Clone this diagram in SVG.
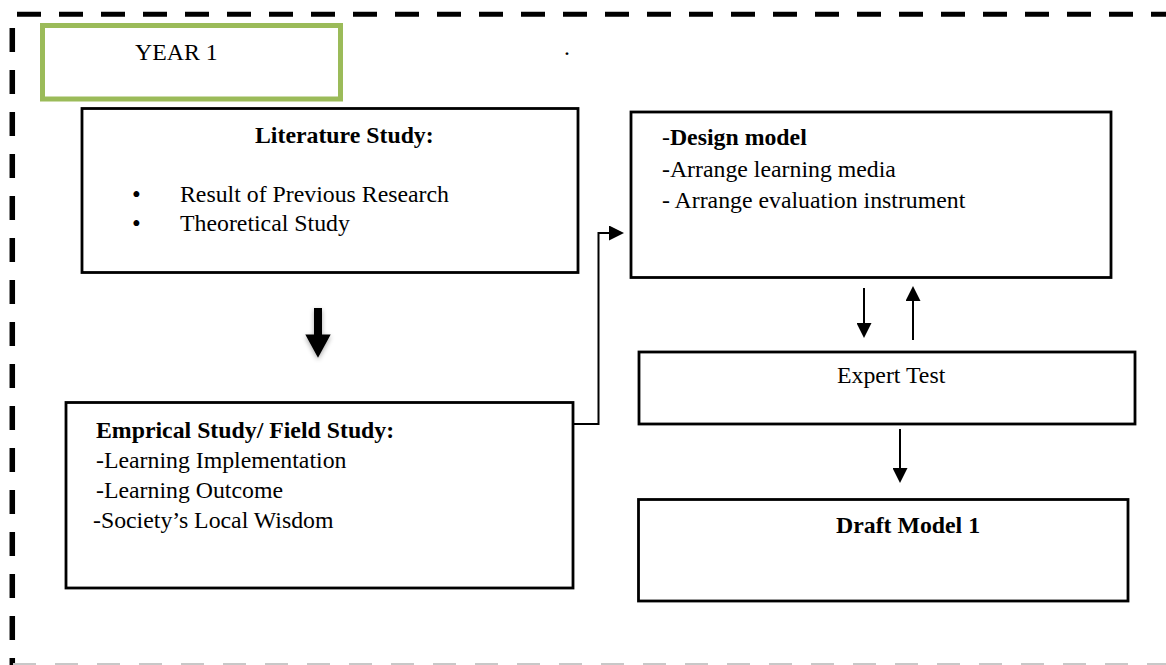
<svg xmlns="http://www.w3.org/2000/svg" width="1166" height="665" viewBox="0 0 1166 665">
  <style>
    .box { fill: #ffffff; stroke: #000000; stroke-width: 2.8; }
    .t { font-family: "Liberation Serif", "Times New Roman", serif; font-size: 23.8px; fill: #000000; }
    .b { font-weight: bold; }
    .bul { font-size: 25px; }
    .conn { stroke: #000000; stroke-width: 2; fill: none; }
  </style>
  <defs>
    <marker id="head" viewBox="0 0 15 15" refX="0" refY="7.5" markerWidth="15" markerHeight="15" markerUnits="userSpaceOnUse" orient="auto">
      <path d="M0,0 L15,7.5 L0,15 Z" fill="#000000"/>
    </marker>
    <filter id="shadow" x="-50%" y="-50%" width="200%" height="200%">
      <feGaussianBlur in="SourceAlpha" stdDeviation="2.5"/>
      <feOffset dx="0" dy="2" result="b"/>
      <feComponentTransfer><feFuncA type="linear" slope="0.35"/></feComponentTransfer>
      <feMerge><feMergeNode/><feMergeNode in="SourceGraphic"/></feMerge>
    </filter>
  </defs>
  <rect x="0" y="0" width="1166" height="665" fill="#ffffff"/>

  <g id="frame">
    <line x1="17" y1="14.3" x2="1166" y2="14.3" stroke="#000000" stroke-width="5" stroke-dasharray="24 18"/>
    <line x1="12.3" y1="28" x2="12.3" y2="665" stroke="#000000" stroke-width="5.5" stroke-dasharray="24 18"/>
    <line x1="13" y1="664" x2="1166" y2="664" stroke="#c8c8c8" stroke-width="1.8" stroke-dasharray="23 19"/>
  </g>

  <g id="year">
    <rect x="42.5" y="25.5" width="298" height="73.5" fill="#ffffff" stroke="#9bbb59" stroke-width="5"/>
    <text class="t" x="135" y="60">YEAR 1</text>
  </g>
  <text class="t" x="564" y="55">.</text>

  <g id="literature">
    <rect class="box" x="82" y="108.5" width="496" height="164"/>
    <text class="t b" x="255" y="143">Literature Study:</text>
    <text class="t bul" x="132" y="203">•</text>
    <text class="t" x="180" y="202">Result of Previous Research</text>
    <text class="t bul" x="132" y="232">•</text>
    <text class="t" x="180" y="231">Theoretical Study</text>
  </g>

  <g id="empirical">
    <rect class="box" x="66" y="402.5" width="507" height="185.5"/>
    <text class="t b" x="96" y="438">Emprical Study/ Field Study:</text>
    <text class="t" x="96" y="468">-Learning Implementation</text>
    <text class="t" x="96" y="498">-Learning Outcome</text>
    <text class="t" x="93" y="528">-Society’s Local Wisdom</text>
  </g>

  <g id="design">
    <rect class="box" x="631" y="112" width="480" height="165.5"/>
    <text class="t" x="662" y="145">-<tspan class="b">Design model</tspan></text>
    <text class="t" x="662" y="177">-Arrange learning media</text>
    <text class="t" x="662" y="208">- Arrange evaluation instrument</text>
  </g>

  <g id="expert">
    <rect class="box" x="639" y="352" width="496" height="72"/>
    <text class="t" x="837" y="383">Expert Test</text>
  </g>

  <g id="draft">
    <rect class="box" x="638.5" y="499.5" width="489.5" height="101.5"/>
    <text class="t b" x="836" y="533">Draft Model 1</text>
  </g>

  <g id="connectors">
    <path d="M314,308 L322,308 L322,334.5 L330.7,334.5 L318,357.7 L305.3,334.5 L314,334.5 Z" fill="#000000" filter="url(#shadow)"/>
    <path class="conn" d="M573,424 L598.5,424 L598.5,233 L609,233" marker-end="url(#head)"/>
    <line class="conn" x1="864" y1="288" x2="864" y2="323" marker-end="url(#head)"/>
    <line class="conn" x1="913" y1="340" x2="913" y2="301" marker-end="url(#head)"/>
    <line class="conn" x1="900" y1="429" x2="900" y2="468" marker-end="url(#head)"/>
  </g>
</svg>
